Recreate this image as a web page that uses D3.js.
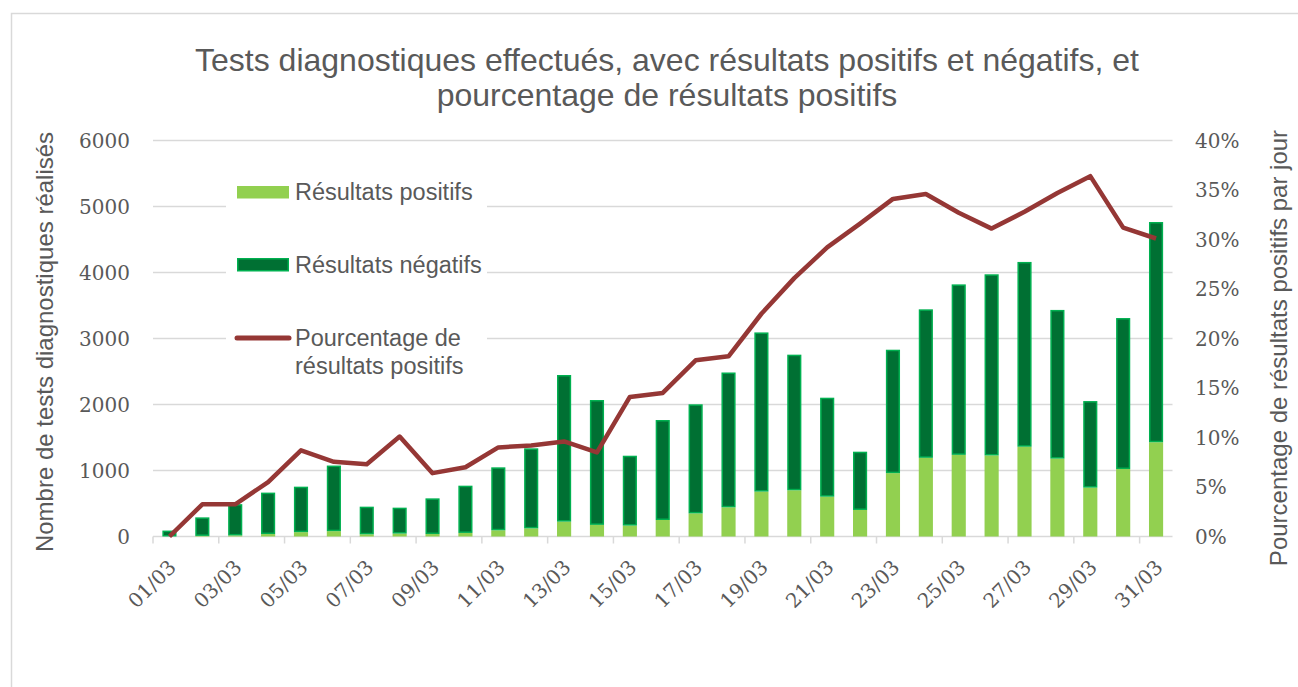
<!DOCTYPE html>
<html>
<head>
<meta charset="utf-8">
<script src="https://cdnjs.cloudflare.com/ajax/libs/d3/7.8.5/d3.min.js"></script>
<style>
  body { margin: 0; background: #fff; }
  svg { display: block; }
  text { fill: #595959; }
</style>
</head>
<body>
<div id="chart"></div>
<script>
// jours du mois de mars
var days = ["01/03", "02/03", "03/03", "04/03", "05/03", "06/03", "07/03", "08/03", "09/03", "10/03",
    "11/03", "12/03", "13/03", "14/03", "15/03", "16/03", "17/03", "18/03", "19/03", "20/03",
    "21/03", "22/03", "23/03", "24/03", "25/03", "26/03", "27/03", "28/03", "29/03", "30/03", "31/03"];

// tests totaux par jour (hauteur de la barre empilée)
var totalTests = [90, 290, 490, 665, 755, 1075, 452, 437, 578, 770,
    1048, 1336, 2447, 2068, 1224, 1765, 2003, 2485, 3092, 2755,
    2103, 1285, 2830, 3442, 3820, 3973, 4160, 3433, 2052, 3310, 4765];

// résultats positifs
var positifs = [0, 9, 16, 37, 66, 81, 33, 44, 37, 54,
    94, 123, 225, 176, 165, 250, 350, 442, 680, 700,
    603, 402, 960, 1192, 1237, 1228, 1360, 1180, 740, 1022, 1428];

// pourcentage de résultats positifs
var pctPositifs = [0, 0.0325, 0.0325, 0.055, 0.087, 0.0755, 0.073, 0.101, 0.064, 0.070,
    0.090, 0.092, 0.096, 0.085, 0.141, 0.145, 0.178, 0.182, 0.225, 0.261,
    0.292, 0.316, 0.341, 0.346, 0.327, 0.311, 0.328, 0.347, 0.364, 0.312, 0.301];

var leftTicks = [0, 1000, 2000, 3000, 4000, 5000, 6000];
var rightTicks = [0, 0.05, 0.10, 0.15, 0.20, 0.25, 0.30, 0.35, 0.40];

var width = 1298;
var height = 687;
var sans = "'Liberation Sans', Arial, sans-serif";
var serif = "'DejaVu Serif', serif";

var plot = { left: 153, right: 1172.5, top: 140.5, bottom: 536.5 };

var svg = d3.select("#chart")
    .append("svg")
    .attr("width", width)
    .attr("height", height);

// cadre du graphique
svg.append("rect")
    .attr("x", 11.5)
    .attr("y", 13.5)
    .attr("width", 1400)
    .attr("height", 800)
    .attr("fill", "#fff")
    .attr("stroke", "#d9d9d9")
    .attr("stroke-width", 1.5);

let x = d3.scaleBand()
    .domain(days)
    .range([plot.left, plot.right])
    .paddingInner(0.57)
    .paddingOuter(0.285);

let y = d3.scaleLinear().domain([0, 6000]).range([plot.bottom, plot.top]);
let y2 = d3.scaleLinear().domain([0, 0.40]).range([plot.bottom, plot.top]);

// grille horizontale
svg.append("g")
    .selectAll("line")
    .data(leftTicks.slice(1))
    .enter()
    .append("line")
    .attr("x1", plot.left)
    .attr("x2", plot.right)
    .attr("y1", d => y(d))
    .attr("y2", d => y(d))
    .attr("stroke", "#d9d9d9")
    .attr("stroke-width", 1.5);

// axe x : une graduation tous les 2 jours
let xAxis = svg.append("g")
    .attr("transform", "translate(0," + plot.bottom + ")");
xAxis.append("line")
    .attr("x1", plot.left)
    .attr("x2", plot.right)
    .attr("stroke", "#d9d9d9")
    .attr("stroke-width", 1.5);
xAxis.selectAll("line.tick")
    .data(days.filter((d, i) => i % 2 == 0))
    .enter()
    .append("line")
    .attr("class", "tick")
    .attr("x1", d => x(d) - x.step() * 0.285)
    .attr("x2", d => x(d) - x.step() * 0.285)
    .attr("y1", 0)
    .attr("y2", 7)
    .attr("stroke", "#d9d9d9")
    .attr("stroke-width", 1.5);
xAxis.selectAll("text")
    .data(days.filter((d, i) => i % 2 == 0))
    .enter()
    .append("text")
    .attr("transform", d => "translate(" + (x(d) + x.bandwidth() / 2 - 2) + ",22) rotate(-45)")
    .attr("text-anchor", "end")
    .attr("dy", "0.7em")
    .attr("font-family", serif)
    .attr("font-size", "20px")
    .text(d => d);

// barres : positifs en bas, négatifs au-dessus
svg.append("g")
    .selectAll("rect")
    .data(days)
    .enter()
    .append("rect")
    .attr("x", d => x(d))
    .attr("width", x.bandwidth())
    .attr("y", (d, i) => y(positifs[i]))
    .attr("height", (d, i) => y(0) - y(positifs[i]))
    .attr("fill", "#92d050");

svg.append("g")
    .selectAll("rect")
    .data(days)
    .enter()
    .append("rect")
    .attr("x", d => x(d) + 0.75)
    .attr("width", x.bandwidth() - 1.5)
    .attr("y", (d, i) => y(totalTests[i]) + 0.75)
    .attr("height", (d, i) => Math.max(0, y(positifs[i]) - y(totalTests[i]) - 1.5))
    .attr("fill", "#007033")
    .attr("stroke", "#00b050")
    .attr("stroke-width", 1.5);

// courbe du pourcentage
let line = d3.line()
    .x((d, i) => x(days[i]) + x.bandwidth() / 2)
    .y(d => y2(d));

svg.append("path")
    .datum(pctPositifs)
    .attr("d", line)
    .attr("fill", "none")
    .attr("stroke", "#953735")
    .attr("stroke-width", 4.5)
    .attr("stroke-linejoin", "round");

// étiquettes des axes verticaux
svg.append("g")
    .selectAll("text")
    .data(leftTicks)
    .enter()
    .append("text")
    .attr("x", 130)
    .attr("y", d => y(d))
    .attr("dy", "0.36em")
    .attr("text-anchor", "end")
    .attr("font-family", serif)
    .attr("font-size", "20px")
    .text(d => d);

svg.append("g")
    .selectAll("text")
    .data(rightTicks)
    .enter()
    .append("text")
    .attr("x", 1195)
    .attr("y", d => y2(d))
    .attr("dy", "0.36em")
    .attr("font-family", serif)
    .attr("font-size", "20px")
    .text(d3.format(".0%"));

// titres
svg.append("text")
    .attr("x", 667)
    .attr("y", 71)
    .attr("text-anchor", "middle")
    .attr("font-family", sans)
    .attr("font-size", "32px")
    .text("Tests diagnostiques effectués, avec résultats positifs et négatifs, et");
svg.append("text")
    .attr("x", 667)
    .attr("y", 106)
    .attr("text-anchor", "middle")
    .attr("font-family", sans)
    .attr("font-size", "32px")
    .text("pourcentage de résultats positifs");

svg.append("text")
    .attr("transform", "translate(53,342) rotate(-90)")
    .attr("text-anchor", "middle")
    .attr("font-family", sans)
    .attr("font-size", "24px")
    .text("Nombre de tests diagnostiques réalisés");

svg.append("text")
    .attr("transform", "translate(1287,348) rotate(-90)")
    .attr("text-anchor", "middle")
    .attr("font-family", sans)
    .attr("font-size", "24px")
    .text("Pourcentage de résultats positifs par jour");

// légende
let legend = svg.append("g");
legend.append("rect")
    .attr("x", 226)
    .attr("y", 165)
    .attr("width", 261)
    .attr("height", 220)
    .attr("fill", "#fff");

legend.append("rect")
    .attr("x", 237).attr("y", 186)
    .attr("width", 52).attr("height", 12.5)
    .attr("fill", "#92d050");
legend.append("rect")
    .attr("x", 237.75).attr("y", 258.75)
    .attr("width", 50.5).attr("height", 12)
    .attr("fill", "#007033")
    .attr("stroke", "#00b050")
    .attr("stroke-width", 1.5);
legend.append("line")
    .attr("x1", 237).attr("x2", 289)
    .attr("y1", 338).attr("y2", 338)
    .attr("stroke", "#953735")
    .attr("stroke-width", 5)
    .attr("stroke-linecap", "round");

var legendLabels = [
    { text: "Résultats positifs", y: 200 },
    { text: "Résultats négatifs", y: 273 },
    { text: "Pourcentage de", y: 346 },
    { text: "résultats positifs", y: 374 }
];
legend.selectAll("text")
    .data(legendLabels)
    .enter()
    .append("text")
    .attr("x", 295)
    .attr("y", d => d.y)
    .attr("font-family", sans)
    .attr("font-size", "23.5px")
    .text(d => d.text);
</script>
</body>
</html>
